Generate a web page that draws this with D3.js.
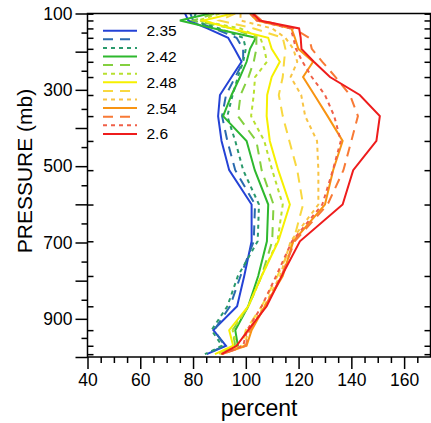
<!DOCTYPE html>
<html>
<head>
<meta charset="UTF-8">
<title>percent profiles</title>
<style>
  body { margin: 0; background: #fff; }
  text { font-family: "Liberation Sans", Arial, sans-serif; fill: #000; }
</style>
<script src="https://d3js.org/d3.v7.min.js"></script>
</head>
<body>
<div class="canvas"></div>
<script>
// model levels (mb)
const levels = [100.51, 118.25, 139.12, 163.67, 192.54, 226.51, 266.48, 313.50, 368.82,
                433.90, 510.46, 600.52, 696.80, 787.70, 867.16, 929.65, 970.55, 992.56];

// percent values per curve, top to bottom
const s01 = [77, 78.2, 85.4, 93.3, 95.7, 98.4, 94.6, 90.2, 89.5, 90.8, 93.7, 102.2, 102.2, 99.4, 96.7, 87.7, 92.5, 85.2];
const s02 = [79, 80, 88, 96.5, 99, 99, 96, 92.5, 91, 93, 96, 103.5, 103, 98, 94, 88, 92, 85];
const s03 = [81, 80, 90, 99, 100, 99, 97, 95, 93, 96, 99, 105, 104.5, 97, 93, 87, 91, 84.5];
const s04 = [86, 75, 88, 103.8, 101.6, 100.3, 97.8, 94.6, 91.4, 100.3, 103.4, 108.5, 108, 104.7, 100.9, 96, 97, 90.5];
const s05 = [88, 80, 95, 104, 104, 103, 101, 98, 97, 104, 106, 110.5, 110, 106, 101, 95, 96, 89];
const s06 = [90, 82, 98, 105.5, 107, 108, 103.5, 103, 102, 107, 110, 114, 112, 106, 101, 95, 96.5, 89];
const s07 = [94.6, 83.8, 94.5, 108.5, 109.8, 112.9, 109.8, 108.1, 107.9, 109.1, 112.3, 116.7, 112.3, 106, 100.9, 93.7, 95.2, 88.3];
const s08 = [96, 90, 103, 114, 115, 114.5, 114, 112.5, 114, 116.5, 119.5, 121.7, 118, 112, 106, 100, 98.5, 90];
const s09 = [98, 98, 110, 115, 118, 119.5, 117, 121, 122.5, 127, 127.5, 127.5, 117, 113, 107, 101, 99.5, 91];
const s10 = [101.6, 104.2, 117.3, 118.6, 119.9, 125.5, 121.7, 126, 131, 136.7, 133.1, 130, 118, 114, 107.2, 102.2, 100.3, 90.8];
const s11 = [103, 106, 118, 124, 125, 129, 134, 139.5, 142.5, 140, 137, 131, 118.5, 113.5, 107.5, 101.5, 100, 91];
const s12 = [102, 104, 117, 118, 119, 121.5, 125, 130, 133.5, 136, 133, 129, 117.5, 111.5, 106, 100.5, 99, 91];
const s13 = [102.7, 105.3, 120.2, 120.8, 121.1, 125.8, 131.9, 143.2, 150.8, 149.5, 140.7, 136.7, 120.5, 113.6, 107.9, 100.9, 96.5, 90.8];

const seriesValues = [s01, s02, s03, s04, s05, s06, s07, s08, s09, s10, s11, s12, s13];
const legendLabels = ['2.35', '', '', '2.42', '', '', '2.48', '', '', '2.54', '', '', '2.6'];

const xTickLabels = [40, 60, 80, 100, 120, 140, 160];
const yTickLabels = [100, 300, 500, 700, 900];

// styles
const colors = ['#2442d6', '#2a6aae', '#2a9a6c', '#2eb82e', '#84d040', '#b8e030',
                '#f6f000', '#f8d840', '#f8c444', '#f89412', '#f87a36', '#f06048', '#ee1c1c'];
const dashes = [null, '10,7', '4,4'];

const W = 431, H = 423;
const svg = d3.select('.canvas').append('svg')
  .attr('width', W).attr('height', H);

const x0 = 87.5, x1 = 430.5, y0 = 13.5, y1 = 357;
const x = d3.scaleLinear().domain([40, 170]).range([x0, x1]);
const y = d3.scaleLinear().domain([100, 1000]).range([y0, y1]);

// curves
const line = d3.line()
  .x(d => x(d[0]))
  .y(d => y(d[1]));

const g = svg.append('g');
seriesValues.forEach((vals, i) => {
  g.append('path')
    .datum(vals.map((v, k) => [v, levels[k]]))
    .attr('d', line)
    .attr('fill', 'none')
    .attr('stroke', colors[i])
    .attr('stroke-width', 2)
    .attr('stroke-linejoin', 'miter')
    .attr('stroke-dasharray', dashes[i % 3]);
});

// axes
function clean(sel) {
  sel.select('.domain').remove();
  sel.selectAll('line').attr('stroke', '#000').attr('stroke-width', 1.5);
}

svg.append('g')
  .attr('transform', `translate(${x0},0)`)
  .call(d3.axisLeft(y).tickValues(d3.range(100, 1001, 100)).tickSize(12)
    .tickFormat(d => yTickLabels.includes(d) ? d : ''))
  .call(clean)
  .call(s => s.selectAll('text').attr('font-size', 17.5).attr('x', -15)
    .attr('font-family', 'Liberation Sans, Arial, sans-serif').attr('fill', '#000'));

svg.append('g')
  .attr('transform', `translate(${x0},0)`)
  .call(d3.axisLeft(y).tickValues(d3.range(150, 1000, 100)).tickSize(6).tickFormat(''))
  .call(clean);

svg.append('g')
  .attr('transform', `translate(${x0},0)`)
  .call(d3.axisRight(y).tickValues(levels).tickSize(6).tickFormat(''))
  .call(clean);

svg.append('g')
  .attr('transform', `translate(${x1},0)`)
  .call(d3.axisLeft(y).tickValues(levels).tickSize(6).tickFormat(''))
  .call(clean);

svg.append('g')
  .attr('transform', `translate(0,${y1})`)
  .call(d3.axisBottom(x).tickValues(xTickLabels).tickSize(12))
  .call(clean)
  .call(s => s.selectAll('text').attr('font-size', 17.5).attr('y', 17)
    .attr('font-family', 'Liberation Sans, Arial, sans-serif').attr('fill', '#000'));

svg.append('g')
  .attr('transform', `translate(0,${y1})`)
  .call(d3.axisBottom(x).tickValues(d3.range(45, 170, 5).filter(v => v % 20 !== 0)).tickSize(6).tickFormat(''))
  .call(clean);

// frame
svg.append('rect')
  .attr('x', x0).attr('y', y0)
  .attr('width', x1 - x0).attr('height', y1 - y0)
  .attr('fill', 'none').attr('stroke', '#000').attr('stroke-width', 1.5);

// axis titles
svg.append('text')
  .attr('x', (x0 + x1) / 2).attr('y', 416)
  .attr('text-anchor', 'middle')
  .attr('font-size', 23)
  .text('percent');

svg.append('text')
  .attr('transform', 'translate(32,171) rotate(-90)')
  .attr('text-anchor', 'middle')
  .attr('font-size', 21)
  .text('PRESSURE (mb)');

// legend
const leg = svg.append('g');
seriesValues.forEach((vals, i) => {
  const ly = 30.7 + i * 8.6;
  leg.append('line')
    .attr('x1', 103).attr('x2', 137)
    .attr('y1', ly).attr('y2', ly)
    .attr('stroke', colors[i]).attr('stroke-width', 2)
    .attr('stroke-dasharray', dashes[i % 3]);
  if (legendLabels[i]) {
    leg.append('text')
      .attr('x', 146.5).attr('y', ly)
      .attr('dy', '0.36em')
      .attr('font-size', 15.5)
      .text(legendLabels[i]);
  }
});
</script>
</body>
</html>
